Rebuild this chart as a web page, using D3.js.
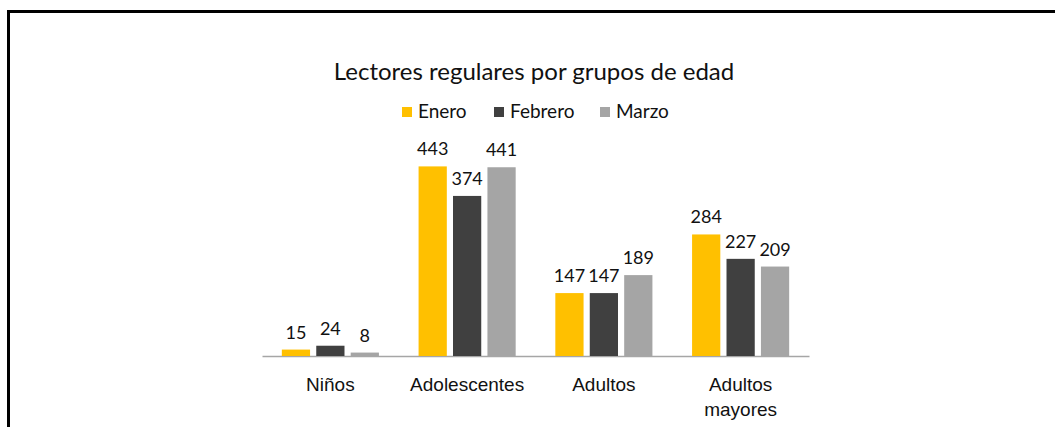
<!DOCTYPE html>
<html>
<head>
<meta charset="utf-8">
<script src="https://cdn.jsdelivr.net/npm/d3@7"></script>
<style>
  body { margin: 0; background: #fff; }
  svg { display: block; font-family: Lato, "Open Sans", sans-serif; }
</style>
</head>
<body>
<div id="chart"></div>
<script>
const categories = ["Niños", "Adolescentes", "Adultos", "Adultos mayores"];
const months = ["Enero", "Febrero", "Marzo"];
const enero = [15, 443, 147, 284];
const febrero = [24, 374, 147, 227];
const marzo = [8, 441, 189, 209];
const colors = ["#FFC000", "#404040", "#A5A5A5"];

const series = [enero, febrero, marzo];
const data = categories.map((c, i) => ({
    cat: c,
    values: months.map((m, j) => ({ month: m, value: series[j][i] }))
}));

const width = 1055, height = 427;

const svg = d3.select("#chart")
    .append("svg")
    .attr("width", width)
    .attr("height", height);

// frame (only top and left edges visible)
svg.append("path")
    .attr("d", `M8.5,${height} L8.5,11.5 L${width},11.5`)
    .attr("fill", "none")
    .attr("stroke", "#000")
    .attr("stroke-width", 3);

const x0 = d3.scaleBand().domain(categories).range([262, 809])
    .paddingInner(0.29).paddingOuter(0.145);
const x1 = d3.scaleBand().domain(months).range([0, x0.bandwidth()])
    .paddingInner(0.18).paddingOuter(0);
const y = d3.scaleLinear().domain([0, 500]).range([356, 142]);
const color = d3.scaleOrdinal().domain(months).range(colors);

// title
svg.append("text")
    .attr("x", 534)
    .attr("y", 80)
    .attr("text-anchor", "middle")
    .style("font-size", "24px")
    .attr("fill", "#111")
    .text("Lectores regulares por grupos de edad");

// legend
const legendX = [402, 494, 600];
const legend = svg.selectAll(".legend")
    .data(months)
    .enter()
    .append("g")
    .attr("transform", (d, i) => `translate(${legendX[i]},107)`);
legend.append("rect")
    .attr("width", 10).attr("height", 10)
    .attr("fill", d => color(d));
legend.append("text")
    .attr("x", 16).attr("y", 11)
    .style("font-size", "19px")
    .attr("fill", "#111")
    .text(d => d);

// x axis
const xAxis = svg.append("g")
    .attr("transform", "translate(0,356)")
    .call(d3.axisBottom(x0).tickSize(0).tickSizeOuter(0));
xAxis.select(".domain").attr("stroke", "#A6A6A6").attr("stroke-width", 1.5);
xAxis.selectAll(".tick text").remove();
xAxis.selectAll(".tick").each(function (d) {
    const words = d === "Adultos mayores" ? ["Adultos", "mayores"] : [d];
    const t = d3.select(this).append("text")
        .attr("text-anchor", "middle")
        .attr("fill", "#111")
        .style("font-size", "19px");
    words.forEach((w, i) => {
        t.append("tspan").attr("x", 0).attr("y", 35 + i * 25).text(w);
    });
});

// bars
const groups = svg.selectAll(".group")
    .data(data)
    .enter()
    .append("g")
    .attr("transform", d => `translate(${x0(d.cat)},0)`);

groups.selectAll("rect")
    .data(d => d.values)
    .enter()
    .append("rect")
    .attr("x", d => x1(d.month))
    .attr("y", d => y(d.value))
    .attr("width", x1.bandwidth())
    .attr("height", d => y(0) - y(d.value))
    .attr("fill", d => color(d.month));

groups.selectAll(".label")
    .data(d => d.values)
    .enter()
    .append("text")
    .attr("x", d => x1(d.month) + x1.bandwidth() / 2)
    .attr("y", d => y(d.value) - 11)
    .attr("text-anchor", "middle")
    .style("font-size", "18px")
    .attr("fill", "#111")
    .text(d => d.value);
</script>
</body>
</html>
